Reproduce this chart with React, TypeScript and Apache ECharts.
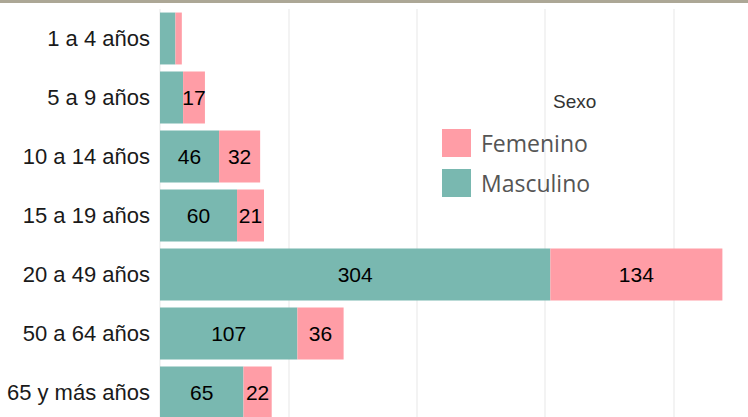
import React, { useEffect, useRef } from "react";
import * as echarts from "echarts";

const categories = ["1 a 4 años", "5 a 9 años", "10 a 14 años", "15 a 19 años", "20 a 49 años", "50 a 64 años", "65 y más años"];
const masculino = [12, 18, 46, 60, 304, 107, 65];
const femenino = [5, 17, 32, 21, 134, 36, 22];
const hiddenMasc = [true, true, false, false, false, false, false];
const hiddenFem = [true, false, false, false, false, false, false];
const seriesNames = ["Femenino", "Masculino"];
const legendTitle = "Sexo";

export default function App() {
  const ref = useRef<HTMLDivElement>(null);
  useEffect(() => {
    if (!ref.current) return;
    const chart = echarts.init(ref.current, undefined, { renderer: "svg" });
    const labelStyle = { show: true, position: "inside", color: "#000", fontSize: 21, fontFamily: "Liberation Sans, Arial, sans-serif" };
    chart.setOption({
      animation: false,
      grid: { left: 160, width: 642, top: 9, height: 413 },
      xAxis: {
        type: "value",
        min: 0,
        max: 500,
        interval: 100,
        axisLabel: { show: false },
        axisLine: { show: false },
        axisTick: { show: false },
        splitLine: { show: true, lineStyle: { color: "#efefef", width: 1.5 } },
      },
      yAxis: {
        type: "category",
        data: categories,
        inverse: true,
        axisLine: { show: false },
        axisTick: { show: false },
        axisLabel: { margin: 10, color: "#1a1a1a", fontSize: 22, fontFamily: "Liberation Sans, Arial, sans-serif" },
      },
      legend: {
        orient: "vertical",
        left: 437,
        top: 124,
        itemWidth: 29,
        itemHeight: 28,
        itemGap: 12,
        icon: "rect",
        data: seriesNames,
        textStyle: { color: "#555", fontSize: 23, fontFamily: "Open Sans, Noto Sans, sans-serif", padding: [0, 0, 0, 5] },
      },
      graphic: [
        { type: "rect", shape: { x: 0, y: 0, width: 900, height: 3 }, style: { fill: "#aca796" } },
        { type: "text", left: 553, top: 92, style: { text: legendTitle, fill: "#333", fontSize: 19, fontFamily: "Liberation Sans, Arial, sans-serif" } },
      ],
      series: [
        {
          name: "Masculino",
          type: "bar",
          stack: "total",
          barCategoryGap: "12%",
          itemStyle: { color: "#79b8b0" },
          label: labelStyle,
          data: masculino.map((v, i) => ({ value: v, label: { show: !hiddenMasc[i] } })),
        },
        {
          name: "Femenino",
          type: "bar",
          stack: "total",
          barCategoryGap: "12%",
          itemStyle: { color: "#ff9da6" },
          label: labelStyle,
          data: femenino.map((v, i) => ({ value: v, label: { show: !hiddenFem[i] } })),
        },
      ],
    });
    return () => chart.dispose();
  }, []);
  return (
    <div style={{ position: "fixed", left: 0, top: 0, width: 748, height: 417, overflow: "hidden", background: "#fff" }}>
      <div ref={ref} style={{ width: 820, height: 430 }} />
    </div>
  );
}
